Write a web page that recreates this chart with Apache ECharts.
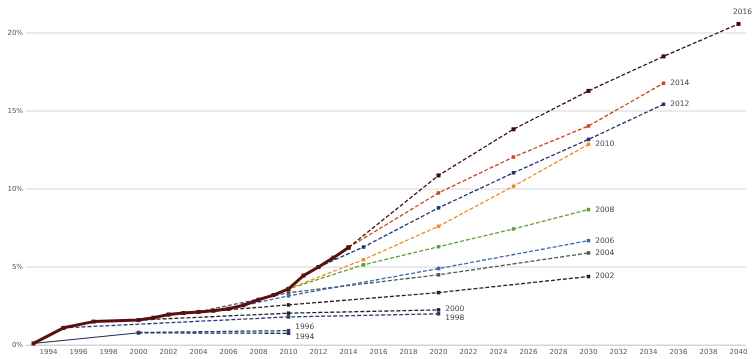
<!DOCTYPE html>
<html><head><meta charset="utf-8">
<script src="https://cdn.jsdelivr.net/npm/echarts@6/dist/echarts.min.js"></script>
<style>html,body{margin:0;padding:0;background:#fff}#c{width:754px;height:359px}</style>
</head><body><div id="c"></div>
<script>
const categories = ['1993','1994','1995','1996','1997','1998','1999','2000','2001','2002','2003','2004','2005','2006','2007','2008','2009','2010','2011','2012','2013','2014','2015','2016','2017','2018','2019','2020','2021','2022','2023','2024','2025','2026','2027','2028','2029','2030','2031','2032','2033','2034','2035','2036','2037','2038','2039','2040'];
const yTicks = [0, 5, 10, 15, 20];

const historical = [[1993,0.1],[1995,1.1],[1997,1.5],[2000,1.6],[2001,1.75],[2002,1.95],[2003,2.05],[2004,2.12],[2005,2.2],[2006,2.32],[2007,2.55],[2008,2.9],[2009,3.2],[2010,3.6],[2011,4.45],[2012,5.0],[2013,5.6],[2014,6.25]];
const p1994Solid = [[1993,0.1],[2000,0.78]];
const p1994 = [[2000,0.78],[2010,0.75]];
const p1996 = [[2000,0.8],[2010,0.92]];
const p1998 = [[1995,1.1],[2010,1.8],[2020,2.0]];
const p2000 = [[2000,1.6],[2010,2.04],[2020,2.25]];
const p2002 = [[2002,1.95],[2010,2.57],[2020,3.36],[2030,4.39]];
const p2004 = [[2004,2.12],[2010,3.35],[2020,4.5],[2030,5.9]];
const p2006 = [[2006,2.32],[2010,3.15],[2020,4.9],[2030,6.69]];
const p2008 = [[2008,2.9],[2010,3.6],[2015,5.14],[2020,6.3],[2025,7.44],[2030,8.68]];
const p2010 = [[2010,3.6],[2015,5.47],[2020,7.61],[2025,10.18],[2030,12.86]];
const p2012 = [[2012,5.0],[2015,6.28],[2020,8.79],[2025,11.04],[2030,13.18],[2035,15.43]];
const p2014 = [[2014,6.25],[2020,9.75],[2025,12.05],[2030,14.04],[2035,16.78]];
const p2016 = [[2014,6.25],[2020,10.87],[2025,13.83],[2030,16.29],[2035,18.5],[2040,20.58]];

const FONT = 'DejaVu Sans';
function proj(name, data, color, labelOpt, extra) {
  const d = data.map((p, i) => {
    const item = { value: [String(p[0]), p[1]] };
    if (labelOpt && i === data.length - 1) {
      item.label = Object.assign({ show: true, formatter: name, color: '#444', fontSize: 7.5, fontFamily: FONT, position: 'right', distance: 5 }, labelOpt);
    }
    return item;
  });
  return Object.assign({
    name: name, type: 'line', data: d, clip: false,
    symbol: 'rect', symbolSize: 3.5, showSymbol: true,
    itemStyle: { color: color },
    lineStyle: { color: color, width: 1.3, type: [4, 2] },
    emphasis: { disabled: true }, animation: false, z: 3
  }, extra || {});
}

const series = [
  proj('1994', p1994Solid, '#1c2c52', null, { lineStyle: { color: '#1c2c52', width: 1, type: 'solid' }, symbolSize: 2 }),
  proj('1994', p1994, '#1c2c52', { position: 'right', offset: [0, 4] }),
  proj('1996', p1996, '#253c7a', { position: 'right', offset: [0, -4] }),
  proj('1998', p1998, '#253c7a', { position: 'right', offset: [0, 4] }),
  proj('2000', p2000, '#222222', { position: 'right', offset: [0, -1] }),
  proj('2002', p2002, '#222222', {}),
  proj('2004', p2004, '#555555', {}),
  proj('2006', p2006, '#3b66b0', {}),
  proj('2008', p2008, '#5e9e32', {}),
  proj('2010', p2010, '#f08a26', {}),
  proj('2012', p2012, '#1f3670', {}),
  proj('2014', p2014, '#c9451f', {}),
  proj('2016', p2016, '#3a0c0c', { position: 'top', distance: 6, offset: [4, 0] }, { symbolSize: 4 }),
  {
    name: 'historical', type: 'line', clip: false,
    data: historical.map(p => [String(p[0]), p[1]]),
    symbol: 'rect', symbolSize: 4, itemStyle: { color: '#5a1010' },
    lineStyle: { color: '#5a1010', width: 3 }, z: 5, animation: false
  }
];

const chart = echarts.init(document.getElementById('c'), null, { renderer: 'canvas' });
chart.setOption({
  animation: false,
  grid: { left: 26, right: 8, top: 33, bottom: 14, containLabel: false },
  xAxis: {
    type: 'category', data: categories, boundaryGap: true,
    axisTick: { show: false },
    axisLine: { show: true, lineStyle: { color: '#cfcfcf', width: 1, type: 'dotted' } },
    axisLabel: { interval: (i, v) => (+v) % 2 === 0, color: '#555', fontSize: 7, fontFamily: FONT, margin: 4 },
    splitLine: { show: false }
  },
  yAxis: {
    type: 'value', min: yTicks[0], max: yTicks[yTicks.length - 1], interval: 5,
    axisLine: { show: false }, axisTick: { show: false },
    axisLabel: { formatter: '{value}%', color: '#555', fontSize: 7, fontFamily: FONT, margin: 3 },
    splitLine: { show: true, lineStyle: { color: '#e3e3e3', width: 1.5 } }
  },
  series: series
});
</script></body></html>
